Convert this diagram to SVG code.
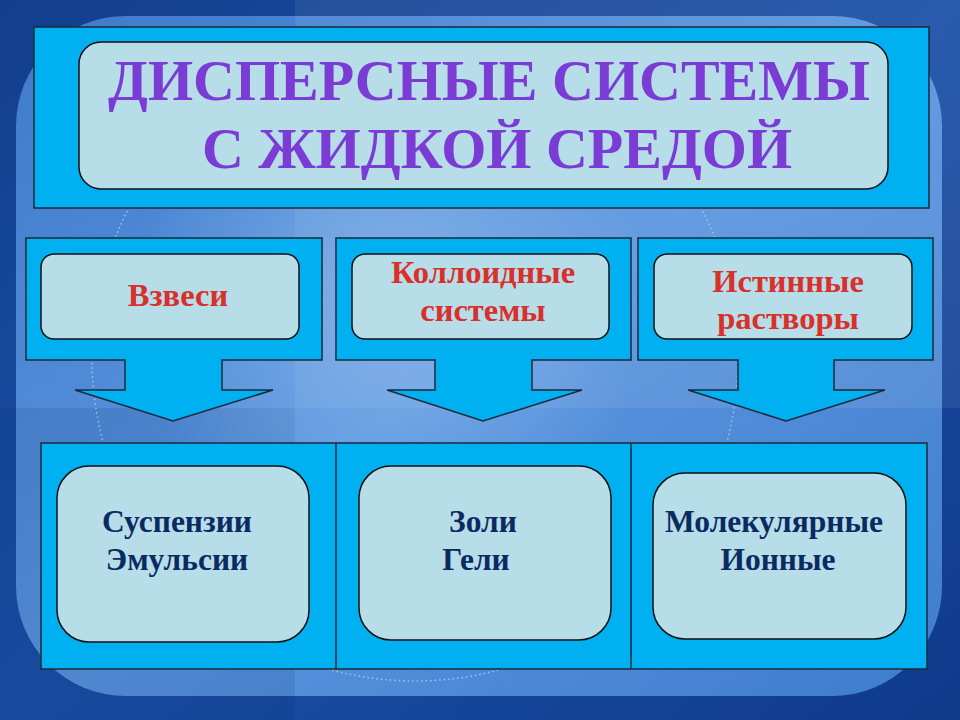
<svg xmlns="http://www.w3.org/2000/svg" width="960" height="720" viewBox="0 0 960 720">
<defs>
<linearGradient id="bg" x1="0" y1="0" x2="1" y2="1">
<stop offset="0" stop-color="#123f8c"/>
<stop offset="0.5" stop-color="#1a4fa6"/>
<stop offset="1" stop-color="#0f3a8a"/>
</linearGradient>
<linearGradient id="panel" x1="0" y1="0" x2="1" y2="1">
<stop offset="0" stop-color="#3f7acb"/>
<stop offset="0.5" stop-color="#5b95df"/>
<stop offset="1" stop-color="#3f7ccd"/>
</linearGradient>
<radialGradient id="glow" cx="0.5" cy="0.5" r="0.5">
<stop offset="0" stop-color="#9cc6f2" stop-opacity="0.55"/>
<stop offset="1" stop-color="#9cc6f2" stop-opacity="0"/>
</radialGradient>
</defs>
<style>
.box{fill:#00b0f0;stroke:#1b2a3a;stroke-width:1.5}
.inner{fill:#b7dde8;stroke:#111;stroke-width:1.5}
.title{font-family:"Liberation Serif","Times New Roman",serif;font-weight:bold;font-size:58px;fill:#7b3cd6;text-anchor:middle}
.cat{font-family:"Liberation Serif","Times New Roman",serif;font-weight:bold;font-size:32.5px;fill:#d9302b;text-anchor:middle}
.item{font-family:"Liberation Serif","Times New Roman",serif;font-weight:bold;font-size:31.5px;fill:#0b2a62;text-anchor:middle}
</style>
<!-- background -->
<rect x="0" y="0" width="960" height="720" fill="url(#bg)"/>
<rect x="16" y="16" width="926" height="680" rx="110" fill="url(#panel)"/>
<rect x="295" y="0" width="665" height="408" fill="#ffffff" opacity="0.07"/>
<rect x="0" y="408" width="295" height="312" fill="#0a2a66" opacity="0.12"/>
<circle cx="390" cy="300" r="260" fill="url(#glow)"/>
<circle cx="415" cy="358" r="323" fill="none" stroke="#dbe8ff" stroke-width="1.5" stroke-dasharray="1.5 3" opacity="0.6"/>

<g id="title">
<rect class="box" x="34" y="27" width="895" height="181"/>
<rect class="inner" x="79" y="42" width="809" height="147" rx="22"/>
<text class="title" x="489" y="100">ДИСПЕРСНЫЕ СИСТЕМЫ</text>
<text class="title" x="497" y="168">С ЖИДКОЙ СРЕДОЙ</text>
</g>

<g id="vzvesi">
<path class="box" d="M26,238 H322 V360 H222 V390 H273 L173,421 L75,390 H125 V360 H26 Z"/>
<rect class="inner" x="41" y="254" width="258" height="85" rx="13"/>
<text class="cat" x="178" y="306">Взвеси</text>
</g>

<g id="colloid">
<path class="box" d="M336,238 H631 V360 H532 V390 H582 L483,421 L387,390 H435 V360 H336 Z"/>
<rect class="inner" x="352" y="254" width="257" height="85" rx="13"/>
<text class="cat" x="483" y="283">Коллоидные</text>
<text class="cat" x="483" y="321">системы</text>
</g>

<g id="true">
<path class="box" d="M638,238 H933 V360 H834 V390 H885 L786,421 L688,390 H738 V360 H638 Z"/>
<rect class="inner" x="654" y="254" width="258" height="85" rx="13"/>
<text class="cat" x="788" y="292">Истинные</text>
<text class="cat" x="788" y="329">растворы</text>
</g>

<g id="bottom">
<rect class="box" x="41" y="443" width="886" height="226"/>
<line x1="336" y1="443" x2="336" y2="669" stroke="#1b2a3a" stroke-width="1.5"/>
<line x1="631" y1="443" x2="631" y2="669" stroke="#1b2a3a" stroke-width="1.5"/>
</g>

<g id="susp">
<rect class="inner" x="57" y="466" width="252" height="176" rx="32"/>
<text class="item" x="177" y="532">Суспензии</text>
<text class="item" x="177" y="570">Эмульсии</text>
</g>

<g id="sol">
<rect class="inner" x="359" y="466" width="252" height="174" rx="32"/>
<text class="item" x="483" y="532">Золи</text>
<text class="item" x="476" y="570">Гели</text>
</g>

<g id="mol">
<rect class="inner" x="653" y="473" width="253" height="166" rx="32"/>
<text class="item" x="774" y="532">Молекулярные</text>
<text class="item" x="778" y="570">Ионные</text>
</g>

<g id="connectors"></g>
</svg>
